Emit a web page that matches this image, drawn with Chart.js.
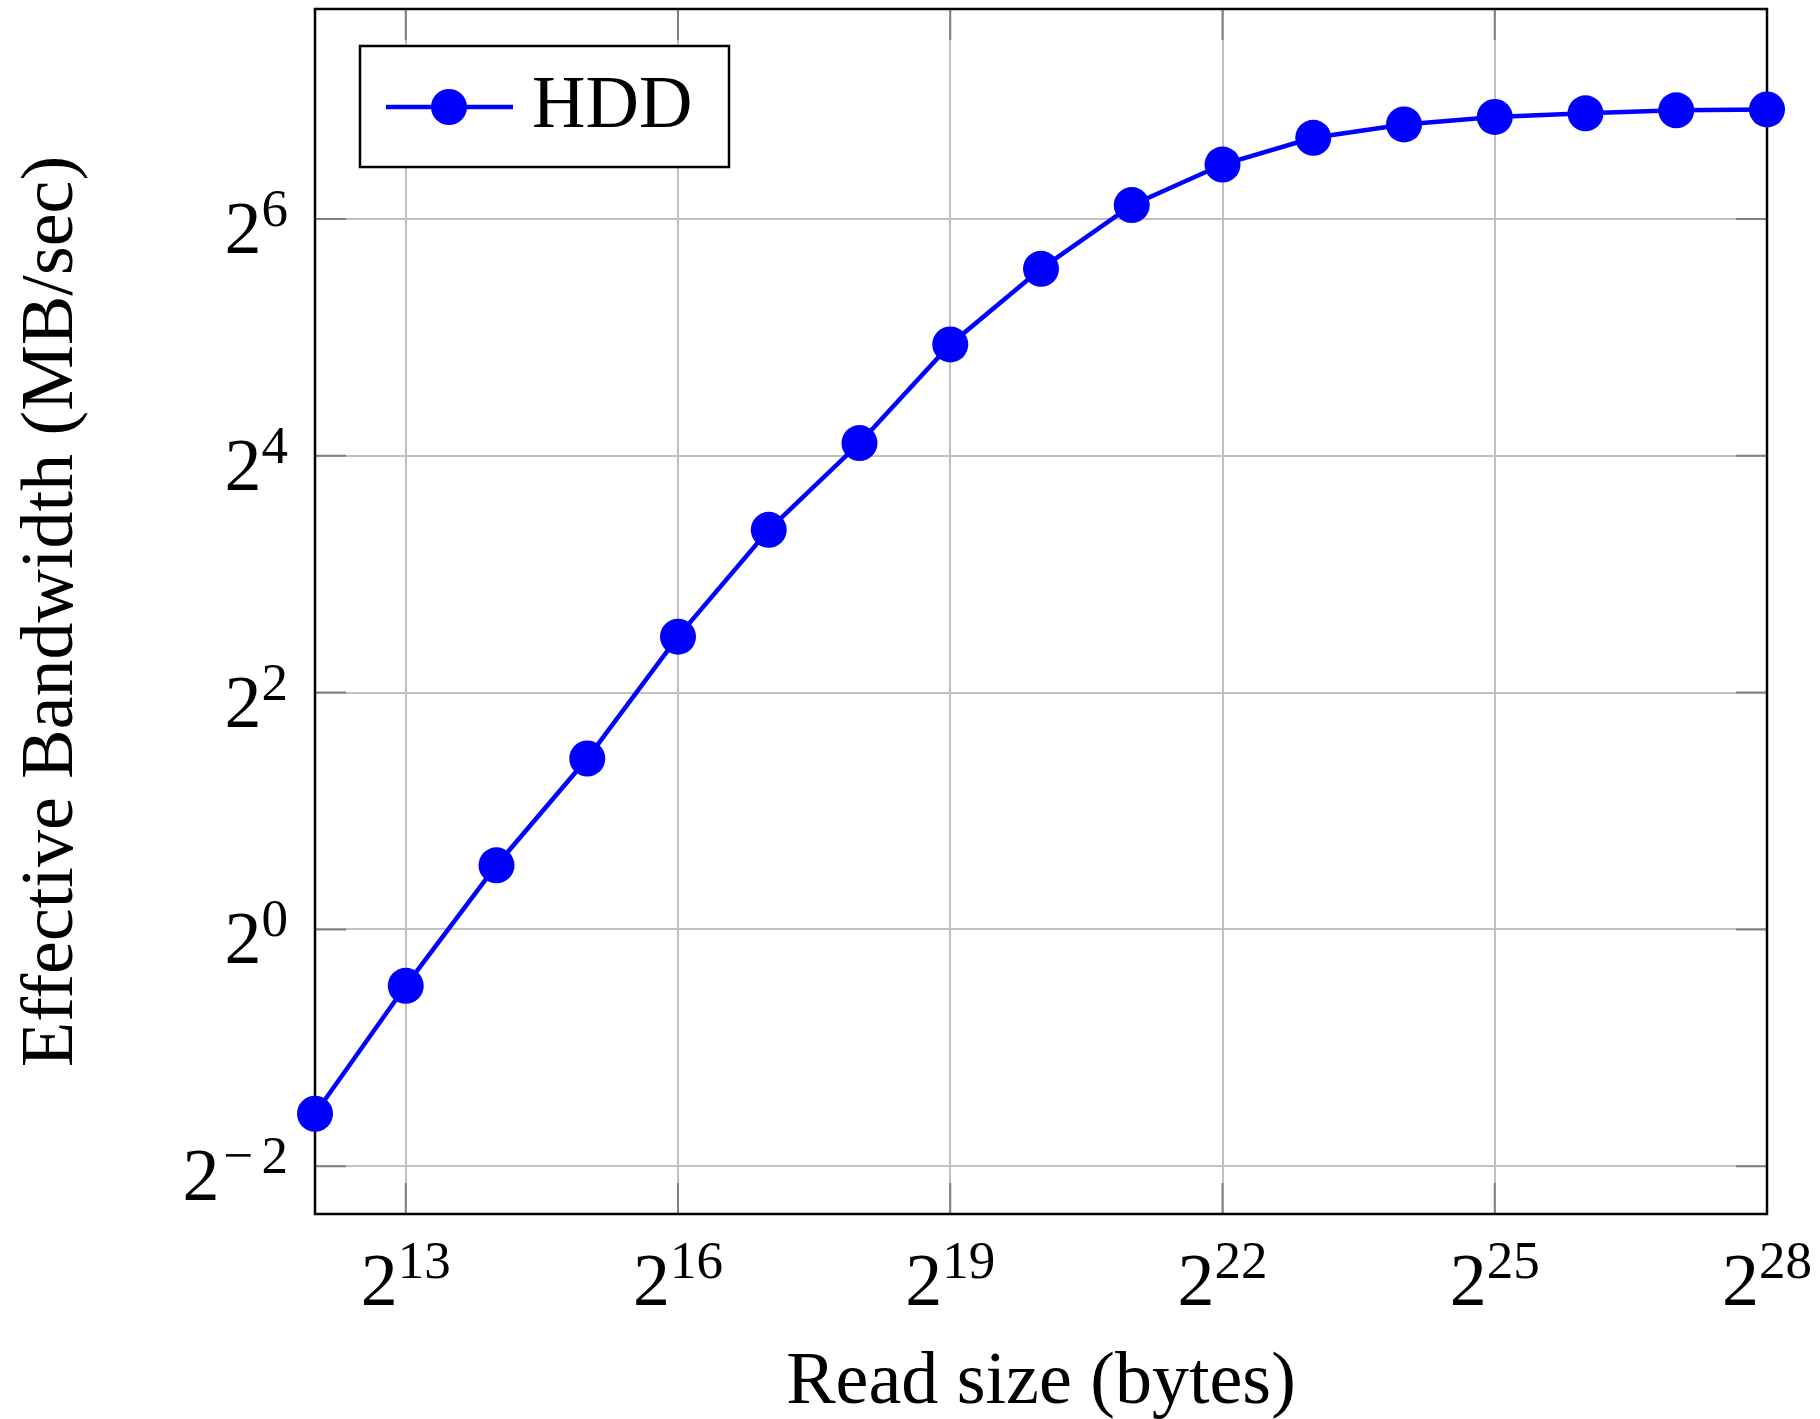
<!DOCTYPE html>
<html>
<head>
<meta charset="utf-8">
<title>HDD effective bandwidth</title>
<script src="https://cdn.jsdelivr.net/npm/chart.js@4.4.1/dist/chart.umd.min.js"></script>
<style>
  html, body { margin: 0; padding: 0; background: #fff; }
  canvas { display: block; }
</style>
</head>
<body>
<canvas id="bwChart" width="1820" height="1419"></canvas>
<script>
// Read sizes (bytes) and measured bandwidth (MB/sec)
const readSizes = [4096, 8192, 16384, 32768, 65536, 131072, 262144, 524288, 1048576,
    2097152, 4194304, 8388608, 16777216, 33554432, 67108864, 134217728, 268435456];
const bandwidth = [0.340, 0.719, 1.456, 2.72, 5.55, 10.37, 17.24, 30.7, 47.8,
    69.4, 88.0, 102.9, 111.3, 116.3, 118.8, 120.9, 121.5];

// Tick positions and the exponents printed next to them
const xTickValues = [8192, 65536, 524288, 4194304, 33554432, 268435456];
const xTickExps = ['13', '16', '19', '22', '25', '28'];
const yTickValues = [0.25, 1, 4, 16, 64];
const yTickExps = ['\u22122', '0', '2', '4', '6'];

const seriesName = 'HDD';
const xTitle = 'Read size (bytes)';
const yTitle = 'Effective Bandwidth (MB/sec)';

// Axis limits (y is padded a bit above and below the data)
const X_MIN = 4096;
const X_MAX = 268435456;
const Y_MIN = Math.pow(2, -2.403);
const Y_MAX = Math.pow(2, 7.773);

const SERIF = '"Liberation Serif", "Times New Roman", serif';
const BLUE = '#0000ff';
const BIG = 74;   // main text size
const SUP = 53;   // exponent size
const TICK_LEN = 31;
const MINUS = '\u2212';

// Draw "2" with a raised exponent, either centred on x or ending at x
function drawPower(ctx, x, y, exp, align) {
    ctx.font = `${BIG}px ${SERIF}`;
    const baseW = ctx.measureText('2').width;
    ctx.font = `${SUP}px ${SERIF}`;
    const neg = exp.startsWith(MINUS);
    const digits = neg ? exp.slice(1) : exp;
    // TeX gives the minus sign some room on both sides
    const minusW = neg ? ctx.measureText(MINUS).width + 12 : 0;
    const expW = minusW + ctx.measureText(digits).width;
    const total = baseW + expW;
    const left = align === 'center' ? x - total / 2 : x - total;
    ctx.textAlign = 'left';
    ctx.textBaseline = 'alphabetic';
    ctx.fillStyle = '#000';
    ctx.font = `${BIG}px ${SERIF}`;
    ctx.fillText('2', left, y);
    ctx.font = `${SUP}px ${SERIF}`;
    if (neg) ctx.fillText(MINUS, left + baseW + 4, y - 27);
    ctx.fillText(digits, left + baseW + minusW, y - 27);
}

// Ticks and frame, drawn under the line so the markers sit on top
const framePlugin = {
    id: 'frame',
    beforeDatasetsDraw(chart) {
        const ctx = chart.ctx;
        const { left, right, top, bottom } = chart.chartArea;
        const xs = chart.scales.x;
        const ys = chart.scales.y;
        ctx.save();
        ctx.strokeStyle = '#808080';
        ctx.lineWidth = 2;
        ctx.beginPath();
        xTickValues.forEach(v => {
            const px = xs.getPixelForValue(v);
            ctx.moveTo(px, bottom); ctx.lineTo(px, bottom - TICK_LEN);
            ctx.moveTo(px, top); ctx.lineTo(px, top + TICK_LEN);
        });
        yTickValues.forEach(v => {
            const py = ys.getPixelForValue(v);
            ctx.moveTo(left, py); ctx.lineTo(left + TICK_LEN, py);
            ctx.moveTo(right, py); ctx.lineTo(right - TICK_LEN, py);
        });
        ctx.stroke();
        ctx.strokeStyle = '#000';
        ctx.lineWidth = 2.5;
        ctx.strokeRect(left, top, right - left, bottom - top);
        ctx.restore();
    },
    afterDraw(chart) {
        const ctx = chart.ctx;
        const { left, right, top, bottom } = chart.chartArea;
        const xs = chart.scales.x;
        const ys = chart.scales.y;
        ctx.save();

        // tick labels
        xTickValues.forEach((v, i) => {
            drawPower(ctx, xs.getPixelForValue(v), bottom + 91, xTickExps[i], 'center');
        });
        yTickValues.forEach((v, i) => {
            drawPower(ctx, left - 27, ys.getPixelForValue(v) + 34, yTickExps[i], 'right');
        });

        // axis titles
        ctx.fillStyle = '#000';
        ctx.font = `${BIG}px ${SERIF}`;
        ctx.textAlign = 'center';
        ctx.textBaseline = 'alphabetic';
        ctx.fillText(xTitle, (left + right) / 2, 1403);
        ctx.save();
        ctx.translate(72, (top + bottom) / 2);
        ctx.rotate(-Math.PI / 2);
        ctx.fillText(yTitle, 0, 0);
        ctx.restore();

        // legend
        ctx.fillStyle = '#fff';
        ctx.fillRect(360, 46, 369, 121);
        ctx.strokeStyle = '#000';
        ctx.lineWidth = 2.5;
        ctx.strokeRect(360, 46, 369, 121);
        ctx.strokeStyle = BLUE;
        ctx.lineWidth = 4.5;
        ctx.beginPath();
        ctx.moveTo(386, 107);
        ctx.lineTo(513, 107);
        ctx.stroke();
        ctx.fillStyle = BLUE;
        ctx.beginPath();
        ctx.arc(449, 107, 18, 0, Math.PI * 2);
        ctx.fill();
        ctx.fillStyle = '#000';
        ctx.textAlign = 'left';
        ctx.fillText(seriesName, 532, 127);

        ctx.restore();
    }
};

const ctx = document.getElementById('bwChart').getContext('2d');
const bwChart = new Chart(ctx, {
    type: 'line',
    data: {
        datasets: [{
            label: seriesName,
            data: readSizes.map((x, i) => ({ x: x, y: bandwidth[i] })),
            borderColor: BLUE,
            backgroundColor: BLUE,
            borderWidth: 4.5,
            pointRadius: 18,
            pointBackgroundColor: BLUE,
            pointBorderWidth: 0,
            tension: 0,
            clip: false
        }]
    },
    options: {
        responsive: false,
        animation: false,
        devicePixelRatio: 1,
        layout: {
            autoPadding: false,
            padding: { left: 315, right: 53, top: 9, bottom: 205 }
        },
        scales: {
            x: {
                type: 'logarithmic',
                min: X_MIN,
                max: X_MAX,
                afterBuildTicks: scale => {
                    scale.ticks = xTickValues.map(v => ({ value: v }));
                },
                ticks: { display: false },
                grid: { color: '#c0c0c0', lineWidth: 2, drawTicks: false },
                border: { display: false }
            },
            y: {
                type: 'logarithmic',
                min: Y_MIN,
                max: Y_MAX,
                afterBuildTicks: scale => {
                    scale.ticks = yTickValues.map(v => ({ value: v }));
                },
                ticks: { display: false },
                grid: { color: '#c0c0c0', lineWidth: 2, drawTicks: false },
                border: { display: false }
            }
        },
        plugins: {
            legend: { display: false },
            tooltip: { enabled: false }
        }
    },
    plugins: [framePlugin]
});
</script>
</body>
</html>
